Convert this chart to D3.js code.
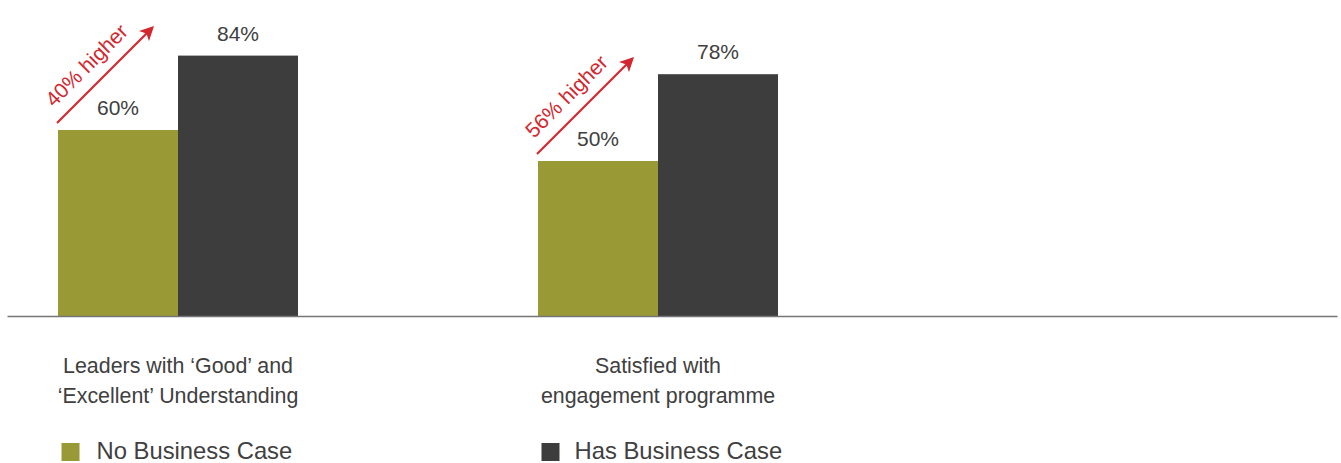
<!DOCTYPE html>
<html>
<head>
<meta charset="utf-8">
<script src="https://cdn.jsdelivr.net/npm/d3@7"></script>
<style>
  html, body { margin: 0; padding: 0; background: #ffffff; }
  svg { display: block; font-family: "Liberation Sans", Arial, sans-serif; }
</style>
</head>
<body>
<svg id="chart" width="1341" height="463"></svg>
<script>
// Survey results: share of respondents, with and without a business case
const categories = [
  ["Leaders with \u2018Good\u2019 and", "\u2018Excellent\u2019 Understanding"],
  ["Satisfied with", "engagement programme"]
];
const seriesNames = ["No Business Case", "Has Business Case"];
const noBusinessCase = [60, 50];
const hasBusinessCase = [84, 78];
const upliftLabels = ["40% higher", "56% higher"];

const colors = ["#999a36", "#3d3d3d"];
const textColor = "#404040";
const accent = "#d4262e";

const svg = d3.select("#chart");
const baseY = 316;

const catKeys = categories.map((c, i) => "c" + i);
const x0 = d3.scaleBand()
  .domain(catKeys)
  .range([-62, 898])
  .paddingInner(0.5)
  .paddingOuter(0.25);
const x1 = d3.scaleBand()
  .domain(seriesNames)
  .range([0, x0.bandwidth()]);
const y = d3.scaleLinear().domain([0, 100]).range([baseY, baseY - 310]);

const rows = catKeys.map((k, i) => ({
  key: k,
  values: [noBusinessCase[i], hasBusinessCase[i]]
}));

// Bars
const groups = svg.selectAll("g.group")
  .data(rows)
  .join("g")
  .attr("class", "group")
  .attr("transform", d => `translate(${x0(d.key)},0)`);

groups.selectAll("rect")
  .data(d => d.values.map((v, j) => ({ v, s: seriesNames[j], j })))
  .join("rect")
  .attr("x", d => x1(d.s))
  .attr("width", x1.bandwidth())
  .attr("y", d => y(d.v))
  .attr("height", d => baseY - y(d.v))
  .attr("fill", d => colors[d.j]);

// Value labels
groups.selectAll("text.value")
  .data(d => d.values.map((v, j) => ({ v, s: seriesNames[j] })))
  .join("text")
  .attr("class", "value")
  .attr("x", d => x1(d.s) + x1.bandwidth() / 2)
  .attr("y", d => y(d.v) - 15)
  .attr("text-anchor", "middle")
  .attr("font-size", 21)
  .attr("fill", textColor)
  .text(d => d.v + "%");

// Baseline axis
const xAxisLine = d3.axisBottom(d3.scaleLinear().range([7, 1337])).ticks(0).tickSizeOuter(0);
svg.append("g")
  .attr("transform", `translate(0,${baseY})`)
  .call(xAxisLine)
  .call(g => g.select(".domain").attr("stroke", "#76767a").attr("stroke-width", 1.6));

// Category labels
groups.append("text")
  .attr("class", "cat")
  .attr("x", x0.bandwidth() / 2)
  .attr("text-anchor", "middle")
  .attr("font-size", 21.4)
  .attr("fill", textColor)
  .selectAll("tspan")
  .data((d, i) => categories[i])
  .join("tspan")
  .attr("x", x0.bandwidth() / 2)
  .attr("y", (d, i) => 373 + i * 30)
  .text(d => d);

// Uplift arrows
const defs = svg.append("defs");
defs.append("marker")
  .attr("id", "arrowHead")
  .attr("viewBox", "0 0 10 10")
  .attr("refX", 8)
  .attr("refY", 5)
  .attr("markerWidth", 6.5)
  .attr("markerHeight", 6.5)
  .attr("orient", "auto")
  .attr("markerUnits", "strokeWidth")
  .append("path")
  .attr("d", "M0,0 L10,5 L0,10 L2.5,5 Z")
  .attr("fill", accent);

groups.each(function (d, i) {
  const g = d3.select(this);
  const x = x1(seriesNames[0]) - 1;
  const y0 = y(d.values[0]) - 7;
  const len = 95;
  g.append("line")
    .attr("x1", x)
    .attr("y1", y0)
    .attr("x2", x + len)
    .attr("y2", y0 - len)
    .attr("stroke", accent)
    .attr("stroke-width", 2.2)
    .attr("marker-end", "url(#arrowHead)");
  g.append("text")
    .attr("transform", `translate(${x - 3},${y0 - 15}) rotate(-45)`)
    .attr("font-size", 21)
    .attr("fill", accent)
    .text(upliftLabels[i]);
});

// Legend
const legend = svg.append("g")
  .selectAll("g")
  .data(seriesNames)
  .join("g")
  .attr("transform", (d, i) => `translate(${x0(catKeys[i]) + 3.5},0)`);
legend.append("rect")
  .attr("x", 0).attr("y", 443)
  .attr("width", 18).attr("height", 18)
  .attr("fill", (d, i) => colors[i]);
legend.append("text")
  .attr("x", (d, i) => i === 0 ? 35 : 33)
  .attr("y", 459)
  .attr("font-size", 23.8)
  .attr("fill", textColor)
  .text(d => d);
</script>
</body>
</html>
